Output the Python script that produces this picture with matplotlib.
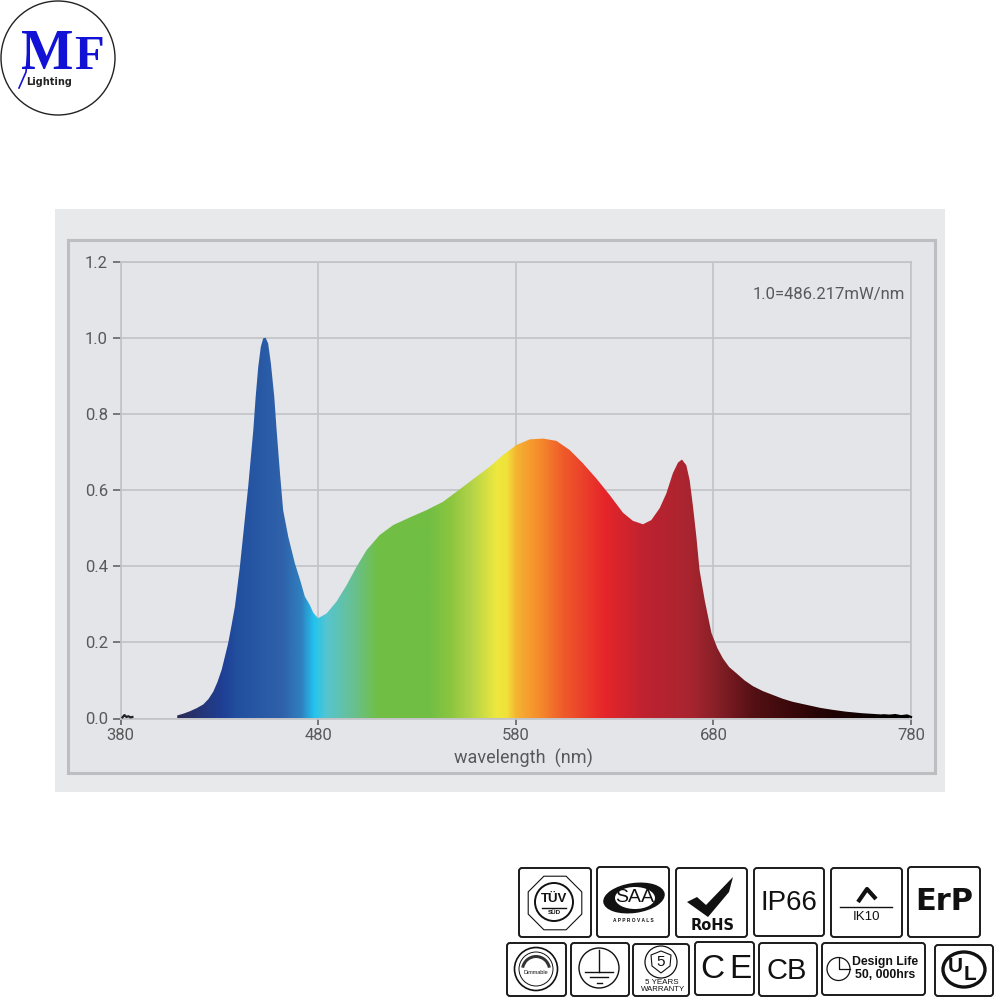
import numpy as np
import matplotlib
matplotlib.use('Agg')
import matplotlib.pyplot as plt
from matplotlib.colors import LinearSegmentedColormap, to_rgb
from matplotlib.patches import Circle, Ellipse, FancyBboxPatch, Polygon, Rectangle, RegularPolygon, Wedge

# spectrum
wavelength = [408.7, 412.0, 415.1, 418.5, 421.9, 424.5, 426.9, 429.0, 431.2, 434.5, 436.2, 437.9, 440.4,
              444.6, 447.2, 448.4, 449.7, 451.0, 452.2, 453.4, 454.7, 456.1, 457.8, 459.0, 460.7, 462.3,
              464.9, 468.2, 470.8, 473.3, 475.8, 477.5, 480.0, 484.3, 489.3, 494.4, 499.4, 504.5, 511.2,
              518.0, 526.4, 534.8, 543.2, 551.7, 560.1, 566.8, 573.6, 580.3, 587.1, 593.8, 600.6, 607.3,
              614.0, 620.8, 627.5, 634.3, 639.3, 644.4, 648.6, 652.8, 656.2, 659.5, 662.1, 664.1, 666.3,
              668.0, 669.7, 671.4, 673.0, 675.6, 679.0, 682.0, 684.8, 688.0, 691.6, 695.8, 700.0, 705.0,
              710.0, 715.0, 720.0, 727.0, 734.0, 740.0, 747.0, 755.0, 764.0, 772.0, 779.2]
power = [0.008, 0.013, 0.019, 0.027, 0.037, 0.051, 0.070, 0.095, 0.128, 0.198, 0.245, 0.294, 0.398,
         0.608, 0.757, 0.845, 0.923, 0.976, 0.998, 1.000, 0.985, 0.932, 0.845, 0.757, 0.644, 0.547,
         0.477, 0.408, 0.365, 0.320, 0.298, 0.278, 0.263, 0.276, 0.307, 0.350, 0.398, 0.442, 0.482,
         0.508, 0.528, 0.547, 0.569, 0.602, 0.635, 0.661, 0.692, 0.718, 0.733, 0.735, 0.729, 0.705,
         0.670, 0.630, 0.587, 0.540, 0.519, 0.510, 0.521, 0.552, 0.591, 0.644, 0.672, 0.680, 0.665,
         0.626, 0.556, 0.477, 0.390, 0.311, 0.225, 0.185, 0.158, 0.135, 0.119, 0.100, 0.085, 0.072,
         0.062, 0.052, 0.044, 0.036, 0.028, 0.023, 0.018, 0.014, 0.011, 0.009, 0.007]

# the little noisy bit at the short end and the long end
noise_nm = [381.0, 382.0, 383.0, 384.0, 385.0, 386.0]
noise_val = [0.003, 0.009, 0.004, 0.006, 0.003, 0.004]
tail_nm = [766, 769, 772, 775, 778, 780]
tail_val = [0.008, 0.007, 0.009, 0.006, 0.008, 0.004]

x_ticks = [380, 480, 580, 680, 780]
y_ticks = [0.0, 0.2, 0.4, 0.6, 0.8, 1.0, 1.2]
x_title = 'wavelength  (nm)'
note = '1.0=486.217mW/nm'

# colour of the fill along the wavelength axis
stop_nm = [380, 408, 431, 439, 462, 471, 477.5, 484, 498, 510, 536, 547, 557, 570, 575, 580, 592, 604, 624,
           646, 668, 680, 700, 730, 764, 780]
stop_col = ['#2b2a55', '#2b2a55', '#1f3f94', '#22509f', '#2f62ab', '#2f80bf', '#22c3ee', '#56c5cf', '#69c08f',
            '#70bf44', '#72be44', '#8cc640', '#b2d348', '#eee83e', '#f0e23a', '#f6b332', '#f58a2c', '#ef5a2a',
            '#e6262a', '#bd2230', '#a8252f', '#8a2028', '#541014', '#2b0505', '#050000', '#000000']

plt.rcParams['font.family'] = ['Roboto', 'DejaVu Sans']
grey = '#58595b'
line_grey = '#c0c3c7'

fig = plt.figure(figsize=(10, 10), dpi=100, facecolor='white')

# everything that is not the chart lives in pixel coordinates
bg = fig.add_axes([0, 0, 1, 1], zorder=0)
bg.set_xlim(0, 1000)
bg.set_ylim(1000, 0)
bg.axis('off')
bg.add_patch(Rectangle((55, 209), 890, 582.5, fc='#e8e9ea', ec='none'))
bg.add_patch(Rectangle((68, 239.5), 866.5, 533, fc='#e4e5e8', ec='#bdbec1', lw=2.2))

ax = fig.add_axes([0.1205, 0.2815, 0.7905, 0.457], zorder=1)
ax.patch.set_alpha(0)
ax.set_xlim(380, 780)
ax.set_ylim(0, 1.2)
ax.set_xticks(x_ticks)
ax.set_yticks(y_ticks)
ax.set_yticklabels(['%.1f' % v for v in y_ticks])
ax.grid(True, color=line_grey, lw=1.2, zorder=0)
ax.set_axisbelow(True)
for s in ax.spines.values():
    s.set_color(line_grey)
    s.set_linewidth(1.2)
ax.tick_params(axis='x', length=4, width=1.1, color=grey, labelcolor=grey, labelsize=12, pad=3)
ax.tick_params(axis='y', length=6, width=1.1, color=grey, labelcolor=grey, labelsize=12, pad=3)
ax.set_xlabel(x_title, color=grey, fontsize=13)
ax.xaxis.set_label_coords(0.5095, -0.067)
ax.text(0.9924, 0.927, note, transform=ax.transAxes, ha='right', va='center', color=grey, fontsize=12)

cmap = LinearSegmentedColormap.from_list(
    'spectrum', [((n - 380) / 400, to_rgb(c)) for n, c in zip(stop_nm, stop_col)], N=800)
grad = np.linspace(0, 1, 800).reshape(1, -1)
im = ax.imshow(grad, extent=[380, 780, 0, 1.2], aspect='auto', cmap=cmap, vmin=0, vmax=1, zorder=2)
outline = list(zip(wavelength, power)) + [(wavelength[-1], 0), (wavelength[0], 0)]
shape = Polygon(outline, closed=True, fc='none', ec='none', transform=ax.transData)
ax.add_patch(shape)
im.set_clip_path(shape)
ax.set_xlim(380, 780)
ax.set_ylim(0, 1.2)
ax.plot(noise_nm, noise_val, color='#222222', lw=1.6, zorder=3, clip_on=False)
ax.plot(tail_nm, tail_val, color='black', lw=1.6, zorder=3, clip_on=False)

# company logo
bg.add_patch(Circle((58, 58), 57, fc='white', ec='#222222', lw=1))
logo_blue = '#1212d6'
bg.text(47, 55, 'M', color=logo_blue, fontsize=40, family='Liberation Serif', weight='bold',
        ha='center', va='center')
bg.text(89, 57, 'F', color=logo_blue, fontsize=35, family='Liberation Serif', weight='bold',
        ha='center', va='center')
bg.plot([28, 26, 19], [52, 72, 88], color=logo_blue, lw=1.2)
bg.text(49.5, 82, 'Lighting', color='#222222', fontsize=7, family='DejaVu Sans', weight='bold',
        ha='center', va='center')


def badge(x0, y0, x1, y1):
    bg.add_patch(FancyBboxPatch((x0 + 2, y0 + 2), x1 - x0 - 4, y1 - y0 - 4, boxstyle='round,pad=2,rounding_size=3',
                                fc='white', ec='#1a1a1a', lw=1.4))


def label(x, y, s, size, family='Liberation Sans', weight='normal', **kw):
    bg.text(x, y, s, fontsize=size, family=family, weight=weight, color='#111111', ha='center', va='center', **kw)


# top row of certification badges
badge(519, 868, 591, 937)
bg.add_patch(RegularPolygon((555, 903), 8, radius=29, orientation=np.pi / 8, fc='white', ec='#111111', lw=0.8))
bg.add_patch(Circle((554, 902), 19, fc='white', ec='#111111', lw=1.4))
label(554, 899, 'TÜV', 9.5, weight='bold')
bg.plot([542, 566], [908, 908], color='#111111', lw=1)
label(554, 913, 'SÜD', 4.5, weight='bold')

badge(597, 867, 669, 937)
bg.add_patch(Ellipse((634, 898), 62, 30, angle=-8, fc='#111111', ec='none'))
bg.add_patch(Ellipse((635, 898), 40, 22, fc='white', ec='none'))
label(635, 898, 'SAA', 14)
label(633, 921, 'A P P R O V A L S', 3.5, weight='bold')

badge(676, 868, 747, 937)
bg.add_patch(Polygon([(687, 902), (697, 897), (706, 905), (733, 877), (729, 892), (708, 917)], fc='#111111', ec='none'))
label(713, 925, 'RoHS', 10.5, family='DejaVu Sans', weight='bold')

badge(754, 868, 824, 936)
label(789, 903, 'IP66', 20)

badge(831, 868, 902, 937)
bg.plot([858, 867, 876], [902, 889, 899], color='#111111', lw=3, solid_capstyle='butt')
bg.plot([840, 892], [906.5, 906.5], color='#111111', lw=1)
label(866, 917, 'IK10', 9.5)

badge(908, 867, 980, 937)
label(944, 901, 'ErP', 22, family='DejaVu Sans', weight='bold')

# bottom row
badge(507, 943, 566, 996)
bg.add_patch(Circle((536, 969), 21.5, fc='white', ec='#111111', lw=1.2))
bg.add_patch(Circle((536, 969), 17, fc='white', ec='#111111', lw=0.7))
bg.add_patch(Wedge((536, 970), 15, 190, 350, width=3, fc='#333333', ec='none'))
label(536, 973, 'Dimmable', 4)

badge(571, 943, 629, 996)
bg.add_patch(Circle((599, 968), 20, fc='white', ec='#111111', lw=1))
bg.plot([599, 599], [950, 972], color='#111111', lw=1)
bg.plot([585, 613], [972, 972], color='#111111', lw=1)
bg.plot([590, 608], [977, 977], color='#111111', lw=1)
bg.plot([597, 602], [983, 983], color='#111111', lw=1)

badge(633, 944, 689, 996)
bg.add_patch(Circle((661, 962), 16, fc='white', ec='#111111', lw=0.9))
bg.add_patch(Polygon([(651, 955), (661, 951), (671, 955), (670, 966), (661, 973), (652, 966)],
                     fc='white', ec='#111111', lw=0.8))
label(661, 962, '5', 11)
label(662, 983, '5 YEARS', 5.8)
label(663, 989.5, 'WARRANTY', 5.6)

badge(695, 942, 754, 995)
label(712, 970, 'C', 24)
label(740, 970, 'E', 24)

badge(759, 943, 817, 996)
label(787, 971, 'CB', 21)

badge(822, 943, 925, 995)
bg.add_patch(Circle((838.5, 969), 11.5, fc='white', ec='#111111', lw=0.9))
bg.plot([838.5, 838.5, 850], [957.5, 969, 969], color='#111111', lw=0.9)
label(885.5, 962, 'Design Life', 8.8, weight='bold')
label(885.5, 975, '50, 000hrs', 8.8, weight='bold')

badge(935, 945, 993, 996)
bg.add_patch(Ellipse((964, 969.5), 42, 35, fc='white', ec='#111111', lw=2.4))
label(955, 967, 'U', 15, weight='bold')
label(970, 975, 'L', 15, weight='bold')

fig.savefig('out.png', dpi=100)
